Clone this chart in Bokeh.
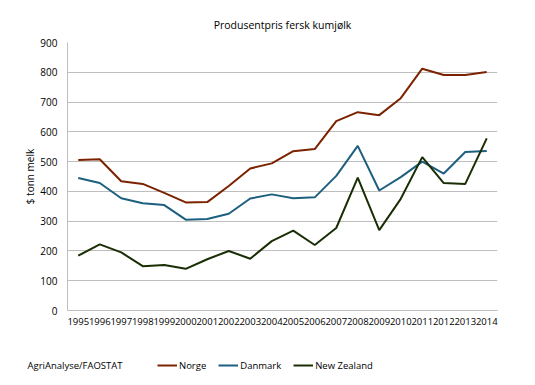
from bokeh.plotting import figure
from bokeh.models import Legend, LegendItem, Label, FactorRange, Range1d, FixedTicker
from bokeh.embed import file_html
from bokeh.resources import INLINE

years = [str(y) for y in range(1995, 2015)]
norge = [505, 508, 434, 425, 395, 363, 364, 418, 477, 494, 535, 542, 636, 666, 656, 713, 812, 791, 791, 801]
danmark = [445, 428, 377, 360, 354, 305, 307, 325, 376, 390, 377, 380, 452, 553, 403, 448, 500, 460, 532, 536]
new_zealand = [184, 222, 195, 149, 153, 140, 172, 200, 174, 233, 268, 220, 277, 446, 270, 375, 515, 428, 425, 578]
series_names = ["Norge", "Danmark", "New Zealand"]
colors = ["#7B2200", "#1D5F7F", "#1A2E05"]
y_ticks = list(range(0, 1000, 100))
source_text = "AgriAnalyse/FAOSTAT"

FONT = "Open Sans"
W = 527
H2 = 37
series = [norge, danmark, new_zealand]

p = figure(width=W, height=340, x_range=FactorRange(*years), y_range=Range1d(0, 900),
           output_backend="svg", toolbar_location=None,
           min_border_left=67, min_border_right=30, min_border_top=42, min_border_bottom=30)
p.title.text = "Produsentpris fersk kumjølk"
p.title.align = "center"
p.title.text_font = FONT
p.title.text_font_size = "10.5px"
p.title.text_font_style = "normal"
p.title.text_color = "#000000"
p.title.standoff = 22
p.outline_line_color = None

for vals, c in zip(series, colors):
    p.line(years, vals, line_color=c, line_width=2)

p.x_range.range_padding = 0
p.yaxis.ticker = FixedTicker(ticks=y_ticks)
p.ygrid.grid_line_color = "#BEBEBE"
p.ygrid.grid_line_width = 1
p.xgrid.grid_line_color = None

for ax in [p.xaxis[0], p.yaxis[0]]:
    ax.major_tick_line_color = None
    ax.minor_tick_line_color = None
    ax.major_tick_out = 0
    ax.major_tick_in = 0
    ax.axis_line_color = "#BEBEBE"
    ax.major_label_text_font = FONT
    ax.major_label_text_color = "#000000"
p.xaxis.major_label_text_font_size = "9.5px"
p.xaxis.major_label_standoff = 7
p.yaxis.major_label_text_font_size = "10px"
p.yaxis.major_label_standoff = 10
p.yaxis.axis_label = "$ tonn melk"
p.yaxis.axis_label_text_font = FONT
p.yaxis.axis_label_text_font_size = "10px"
p.yaxis.axis_label_text_font_style = "normal"
p.yaxis.axis_label_text_color = "#000000"
p.yaxis.axis_label_standoff = 0

# legend strip below the chart: data units of this strip equal pixels;
# the series lines lie above its visible range, only their legend glyphs show
p2 = figure(width=W, height=H2, x_range=Range1d(0, W), y_range=Range1d(0, H2),
            output_backend="svg", toolbar_location=None,
            x_axis_location=None, y_axis_location=None,
            min_border_left=0, min_border_right=0, min_border_top=0, min_border_bottom=0)
p2.grid.visible = False
p2.outline_line_color = None
leg_rs = [p2.line(list(range(len(years))), vals, line_color=c, line_width=2)
          for vals, c in zip(series, colors)]

legend = Legend(items=[LegendItem(label=n, renderers=[r]) for n, r in zip(series_names, leg_rs)],
                orientation="horizontal", location=(157, 5),
                label_text_font=FONT, label_text_font_size="9.5px", label_text_color="#000000",
                glyph_width=20, glyph_height=14, label_height=14,
                label_standoff=2, spacing=12, padding=0, margin=0,
                border_line_color=None, background_fill_alpha=0)
p2.add_layout(legend, "center")

src = Label(x=27, y=12, text=source_text, text_baseline="middle",
            text_font=FONT, text_font_size="9.5px", text_color="#000000")
p2.add_layout(src)

open("out.html", "w").write(file_html([p, p2], INLINE))
